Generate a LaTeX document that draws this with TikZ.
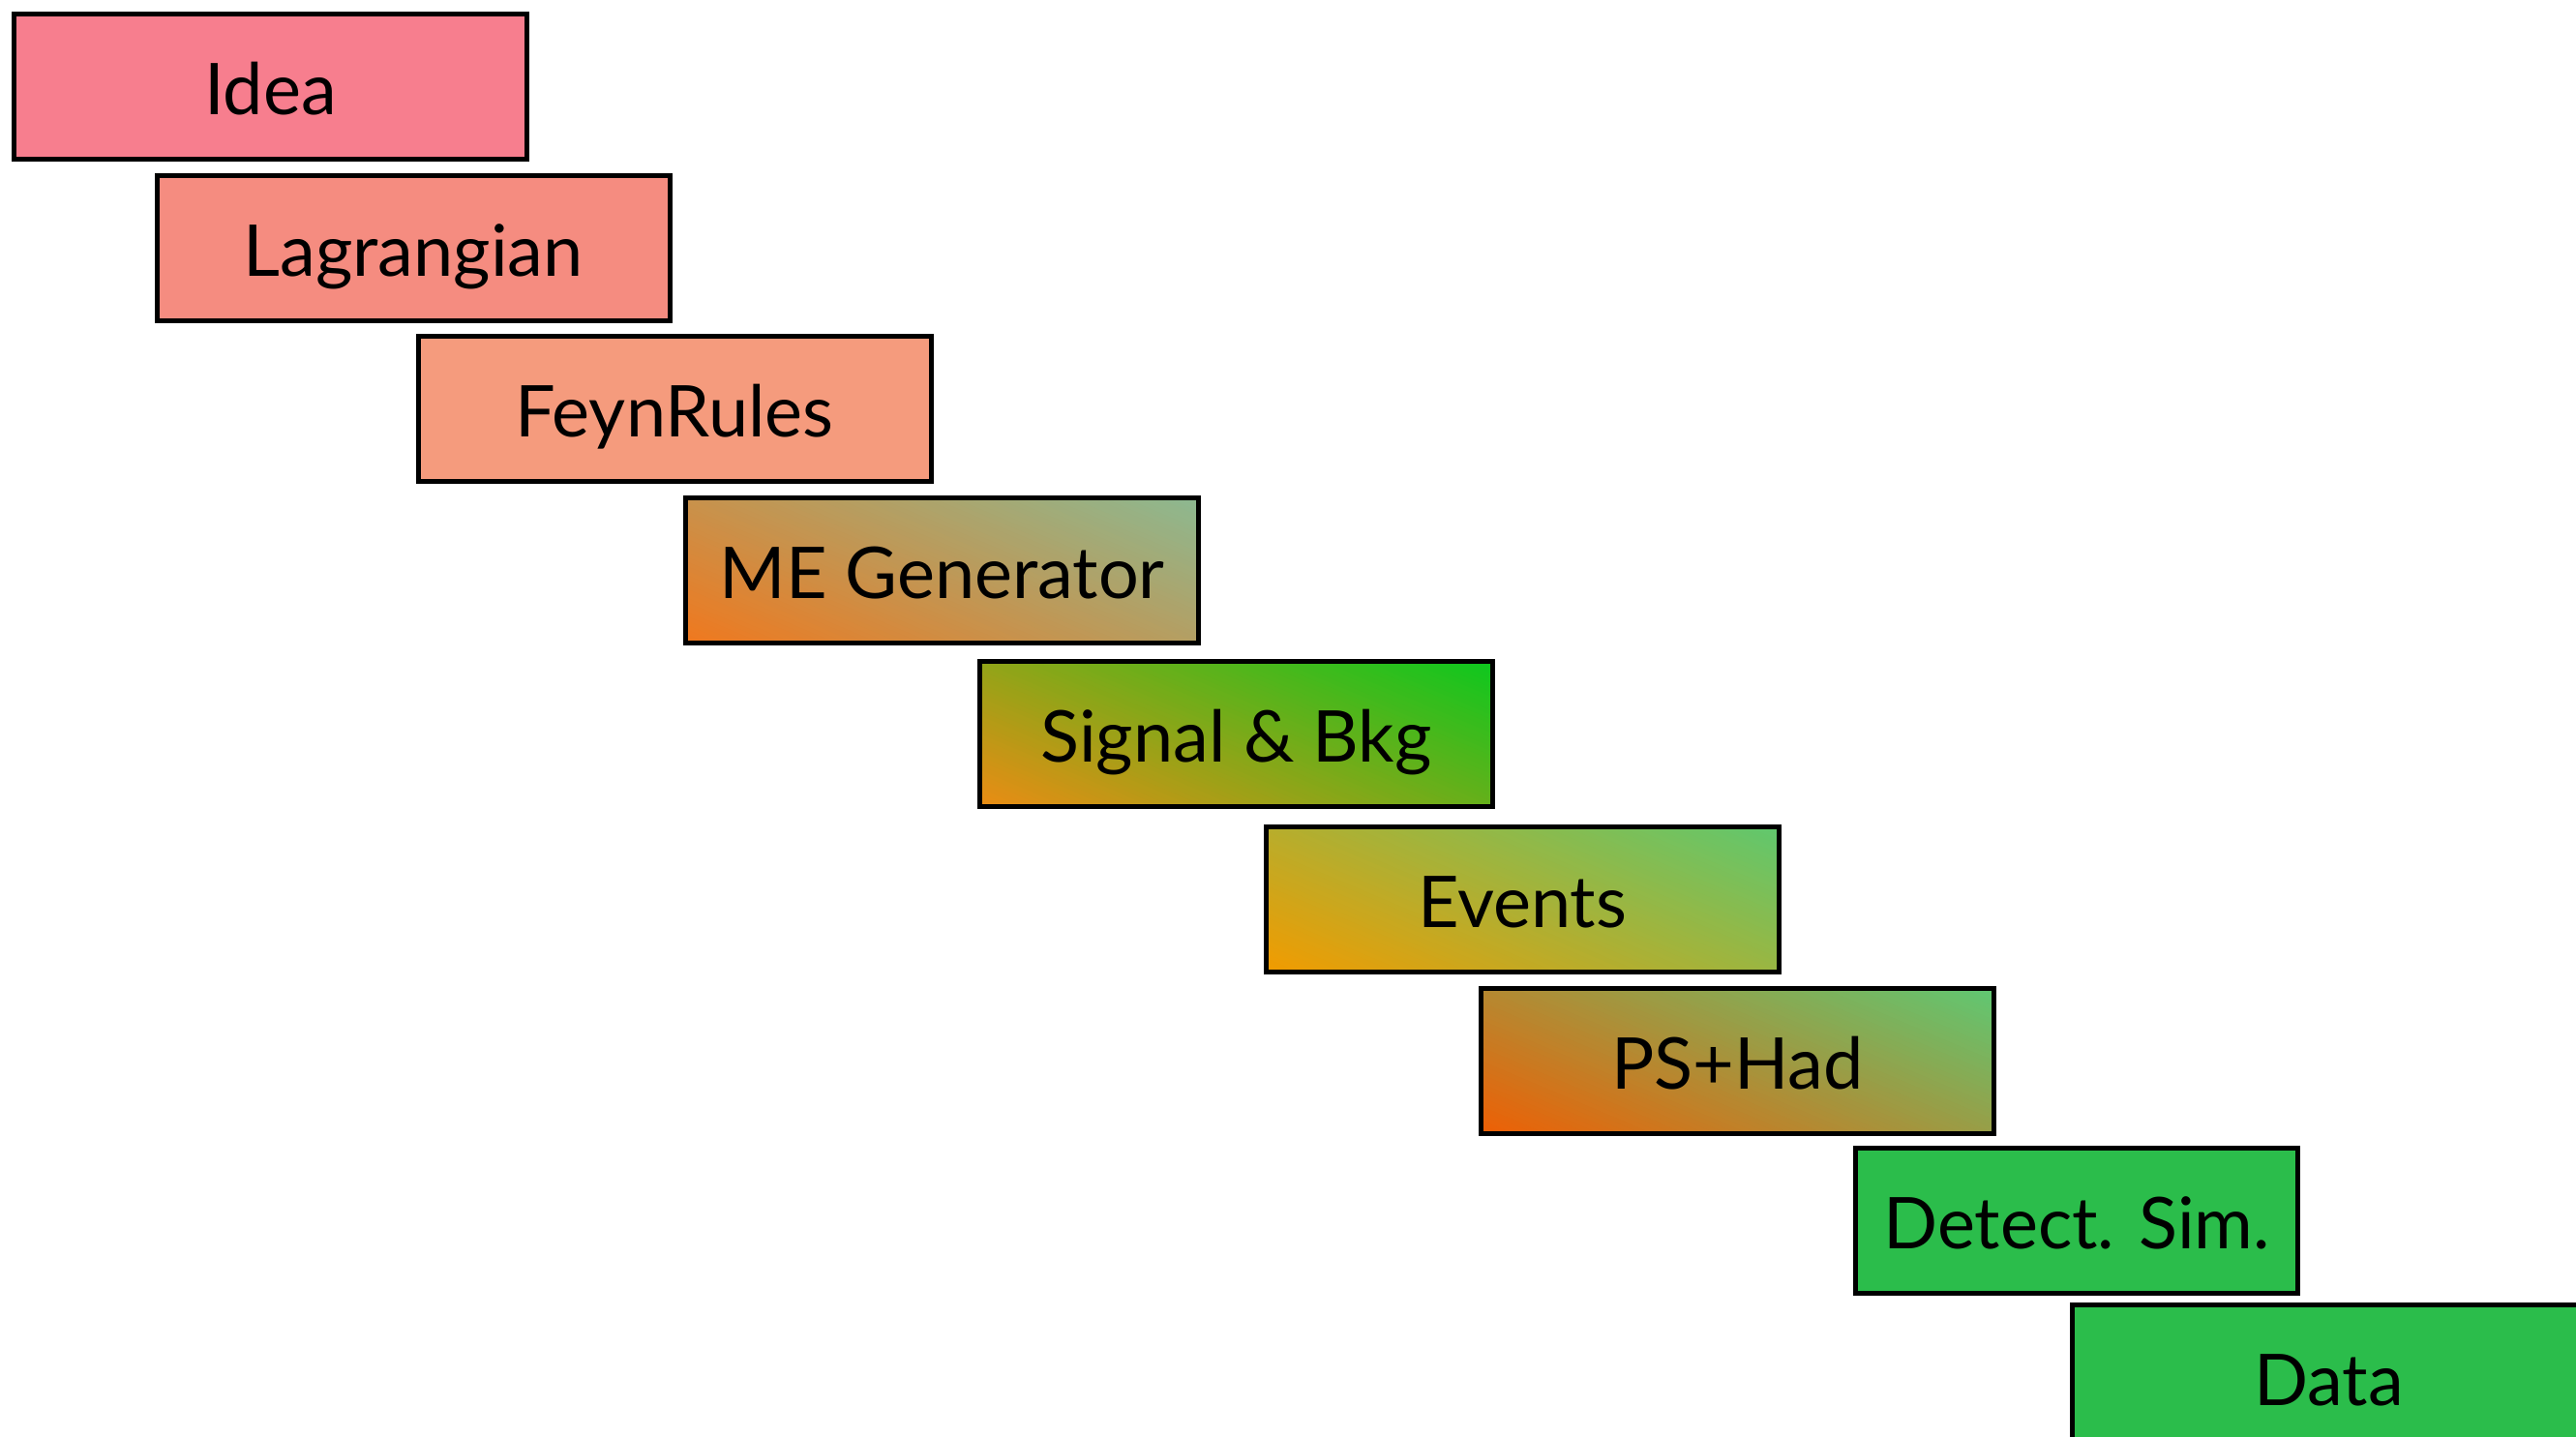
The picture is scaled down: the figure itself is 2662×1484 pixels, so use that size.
\documentclass[tikz,border=0pt]{standalone}
\usepackage{fontspec}
\setmainfont{Lato}
\definecolor{ideapink}{RGB}{247,126,142}
\definecolor{lagsalmon}{RGB}{245,140,128}
\definecolor{feynpeach}{RGB}{245,155,125}
\definecolor{meorange}{RGB}{240,120,30}
\definecolor{mesage}{RGB}{140,185,145}
\definecolor{sigorange}{RGB}{235,140,20}
\definecolor{siggreen}{RGB}{12,200,30}
\definecolor{evorange}{RGB}{242,155,0}
\definecolor{evgreen}{RGB}{95,200,110}
\definecolor{psorange}{RGB}{238,95,5}
\definecolor{psgreen}{RGB}{95,200,115}
\definecolor{simgreen}{RGB}{43,189,75}

% diagonal colour blend behind a 530x150 box centred at (#1,#2):
% #3 in the lower left corner, #4 in the upper right one
\newcommand\blendbox[4]{%
  \begin{scope}
    \clip (#1-265,#2+75) rectangle (#1+265,#2-75);
    \begin{scope}[shift={(#1-265,#2+75)}, x=53mm, y=15mm]
      \foreach \i in {0,...,79}{
        \pgfmathsetmacro\sa{\i==0 ? -1 : \i/80}
        \pgfmathsetmacro\sb{\i==79 ? 2 : (\i+1)/80+0.003}
        \pgfmathsetmacro\share{(\i+0.5)/80*100}
        \fill[#4!\share!#3] ({(\sa+0.4)/0.6},-1) -- ({(\sb+0.4)/0.6},-1)
          -- ({(\sb-0.8)/0.6},2) -- ({(\sa-0.8)/0.6},2) -- cycle;
      }
    \end{scope}
  \end{scope}}

\begin{document}
\begin{tikzpicture}[x=0.1mm,y=-0.1mm,
  stage/.style={draw=black, line width=0.5mm, minimum width=53mm,
    minimum height=15mm, inner sep=0pt, text height=16.5pt, text depth=0pt,
    font=\fontsize{21}{25}\selectfont}]
\useasboundingbox (0,0) rectangle (2662,1484);
\clip (0,0) rectangle (2662,1484);
\fill[white] (0,0) rectangle (2662,1484);

% blended backgrounds of the middle stages
\blendbox{973.5}{589}{meorange}{mesage}
\blendbox{1277.5}{758}{sigorange}{siggreen}
\blendbox{1573}{929}{evorange}{evgreen}
\blendbox{1795.5}{1096}{psorange}{psgreen}

% the chain of stages, stepping down to the right
\node[stage, fill=ideapink]  (idea) at (279.5,89)   {Idea};
\node[stage, fill=lagsalmon] (lag)  at (427,256)    {Lagrangian};
\node[stage, fill=feynpeach] (feyn) at (697,422)    {FeynRules};
\node[stage] (me)  at (973.5,589)   {ME Generator};
\node[stage] (sig) at (1277.5,758)  {Signal \& Bkg};
\node[stage] (ev)  at (1573,929)    {Events};
\node[stage] (ps)  at (1795.5,1096) {PS+Had};
\node[stage, fill=simgreen, minimum width=45.7mm] (det) at (2146,1261.5) {Detect. Sim.};
\node[stage, fill=simgreen]  (data) at (2406.5,1423) {Data};
\end{tikzpicture}
\end{document}
